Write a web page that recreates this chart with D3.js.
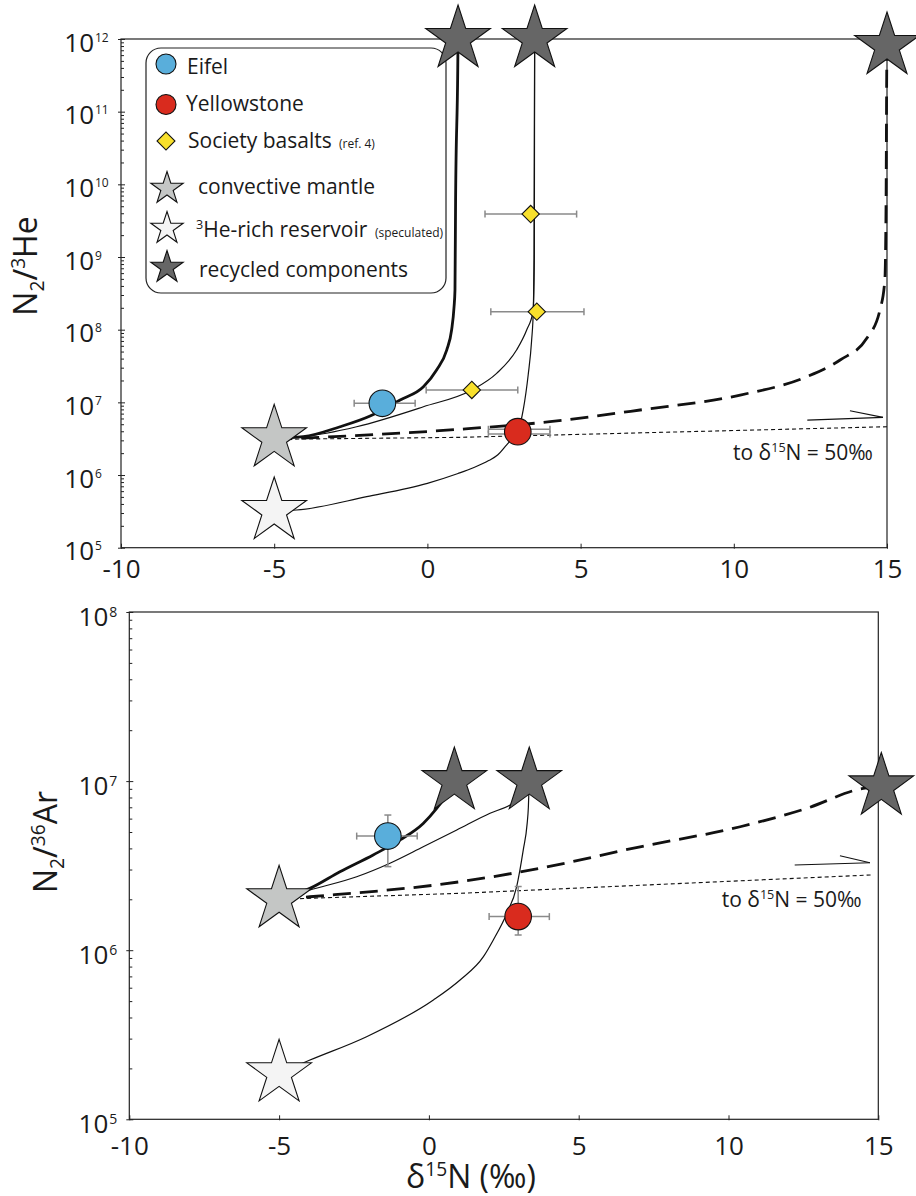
<!DOCTYPE html>
<html><head><meta charset="utf-8">
<script src="https://cdn.jsdelivr.net/npm/d3@7"></script>
<style>
body{margin:0;background:#fff}
svg{display:block}
text{font-family:"Open Sans",sans-serif;fill:#1a1a1a}
</style>
</head><body>
<svg id="c" width="916" height="1196"></svg>
<script>
// ---------- data ----------
const xTicks = [-10, -5, 0, 5, 10, 15];
const heTicks = [1e5, 1e6, 1e7, 1e8, 1e9, 1e10, 1e11, 1e12];
const arTicks = [1e5, 1e6, 1e7, 1e8];

// end-members [δ15N, ratio]
const heConvective = [-5, 3.2e6];
const heRich = [-5, 3.2e5];
const heRecycled = [[1, 1e12], [3.5, 1e12], [15, 8e11]];
const arConvective = [-5, 2.0e6];
const arRich = [-5, 1.87e5];
const arRecycled = [[0.85, 1e7], [3.35, 1e7], [15.1, 9.3e6]];

// samples [x, y, xlo, xhi, ylo, yhi]
const heEifel = [-1.47, 9.7e6, -2.39, -0.40];
const heYellowstone = [2.95, 3.95e6, 1.99, 4.0, 3.67e6, 4.26e6];
const heSociety = [[1.45, 1.48e7, -0.04, 2.95], [3.57, 1.77e8, 2.07, 5.11], [3.37, 3.9e9, 1.88, 4.87]];
const arEifel = [-1.37, 4.73e6, -2.41, -0.39, 3.12e6, 6.3e6];
const arYellowstone = [2.98, 1.58e6, 2.01, 4.02, 1.23e6, 2.38e6];

// mixing curves
const heCurveEifel = [[-5, 3.2e6], [-4.05, 3.37e6], [-2.85, 4.62e6], [-1.87, 6.49e6], [-0.89, 1.08e7], [-0.13, 1.64e7], [0.30, 2.79e7], [0.63, 5.25e7], [0.79, 9.9e7], [0.87, 2.07e8], [0.90, 3.5e8], [0.92, 6.1e9], [0.99, 3.7e11], [1, 1e12]];
const heCurveSociety = [[-5, 3.2e6], [-4.05, 3.37e6], [-2.31, 4.62e6], [-0.13, 8.7e6], [1.45, 1.48e7], [2.26, 2.51e7], [2.91, 5.25e7], [3.24, 9.9e7], [3.45, 1.8e8], [3.48, 1e9], [3.5, 1e12]];
const heCurveYellowstone = [[-5, 3.2e5], [-4.27, 3.3e5], [-1.98, 5.04e5], [0, 7.69e5], [1.0, 1.05e6], [1.5, 1.26e6], [2.0, 1.58e6], [2.3, 1.9e6], [2.55, 2.5e6], [2.8, 3.3e6], [2.95, 3.95e6], [3.13, 8.0e6], [3.29, 2.4e7], [3.40, 7.0e7], [3.46, 2.0e8], [3.49, 1e9], [3.5, 1e12]];
const heCurveDashed = [[-5, 3.1e6], [1.06, 4.26e6], [4.0, 5.42e6], [6.94, 7.85e6], [10.21, 1.26e7], [12.38, 2.25e7], [13.47, 3.83e7], [14.34, 7.6e7], [14.77, 1.87e8], [14.93, 4.83e8], [14.97, 6.1e9], [14.99, 3.0e11], [15, 8e11]];
const heCurveDotted = [[-5, 3.1e6], [1.06, 3.3e6], [15, 4.62e6]];
const heArrow = [[12.4, 5.71e6], [14.87, 6.22e6]];
const heArrowBarb = [[13.79, 7.67e6], [14.87, 6.22e6]];

const arCurveEifel = [[-5, 2.0e6], [-3.97, 2.32e6], [-2.97, 2.91e6], [-1.86, 3.66e6], [-0.96, 4.49e6], [-0.19, 5.62e6], [0.26, 6.9e6], [0.59, 8.28e6], [0.85, 1e7]];
const arCurveSociety = [[-5, 2.0e6], [-3.97, 2.27e6], [-2.41, 2.72e6], [-1.30, 3.27e6], [-0.19, 4.09e6], [0.93, 5.14e6], [2.04, 6.46e6], [2.71, 7.23e6], [3.25, 8.5e6]];
const arCurveYellowstone = [[-5, 1.87e5], [-3.97, 2.24e5], [-2.08, 3.08e5], [0.15, 5.08e5], [1.04, 6.67e5], [1.82, 9.16e5], [2.15, 1.15e6], [2.60, 1.65e6], [2.93, 2.38e6], [3.15, 3.92e6], [3.28, 5.62e6], [3.32, 7.0e6], [3.35, 1e7]];
const arCurveDashed = [[-5, 2.0e6], [-3.97, 2.07e6], [1.04, 2.54e6], [3.71, 3.05e6], [7.05, 4.09e6], [10.39, 5.37e6], [12.61, 6.9e6], [14.50, 9.06e6], [15.1, 9.3e6]];
const arCurveDotted = [[-5, 2.0e6], [1.04, 2.17e6], [14.83, 2.79e6]];
const arArrow = [[12.21, 3.19e6], [14.72, 3.29e6]];
const arArrowBarb = [[13.72, 3.62e6], [14.72, 3.29e6]];

// ---------- styles ----------
const C = {blue: "#59aedb", red: "#d92b1e", yellow: "#f8e02c", dark: "#666666", conv: "#c4c6c5", rich: "#f4f4f4", err: "#8a8a8a", ink: "#1a1a1a"};

const svg = d3.select("#c");

function rich(sel, parts, size) {
  let cur = 0;
  parts.forEach(([t, type]) => {
    const target = type === "sup" ? -size * 0.38 : type === "sub" ? size * 0.22 : 0;
    sel.append("tspan").attr("dy", (target - cur).toFixed(2))
      .attr("font-size", type ? size * 0.6 : size).text(t);
    cur = target;
  });
}

const starGen = R => d3.symbol(d3.symbolStar, R * R / 0.8908130915292852)();

function panel(cfg) {
  const {x, y, g} = cfg;
  const [x0, x1] = x.range(), [yb, yt] = y.range();
  // frame
  g.append("rect").attr("x", x0).attr("y", yt).attr("width", x1 - x0).attr("height", yb - yt)
    .attr("fill", "none").attr("stroke", "#222").attr("stroke-width", 1.2);
  // x axis ticks
  const xa = g.append("g").attr("transform", `translate(0,${yb})`)
    .call(d3.axisBottom(x).tickValues(xTicks).tickSizeInner(-4).tickSizeOuter(0).tickPadding(cfg.xPad).tickFormat(d => String(d)));
  xa.select(".domain").remove();
  xa.attr("font-size", null).attr("font-family", null);
  xa.selectAll("line").attr("stroke", "#222").attr("y2", -4).attr("y1", 1);
  xa.selectAll("text").attr("font-size", 26).attr("fill", C.ink);
  // y axis ticks
  const ya = g.append("g").attr("transform", `translate(${x0},0)`)
    .call(d3.axisLeft(y).tickValues(cfg.ticks).tickSizeInner(-4).tickSizeOuter(0).tickFormat(""));
  ya.select(".domain").remove();
  ya.selectAll("line").attr("stroke", "#222").attr("x1", -3);
  const minors = [];
  cfg.ticks.slice(0, -1).forEach(t => { for (let k = 2; k <= 9; k++) minors.push(t * k); });
  const ym = g.append("g").attr("transform", `translate(${x0},0)`)
    .call(d3.axisLeft(y).tickValues(minors).tickSizeInner(-3).tickSizeOuter(0).tickFormat(""));
  ym.select(".domain").remove();
  ym.selectAll("line").attr("stroke", "#222");
  // y labels 10^n
  cfg.ticks.forEach(t => {
    const e = Math.round(Math.log10(t));
    g.append("text").attr("x", cfg.labR).attr("y", y(t) + cfg.dyBase).attr("text-anchor", "end")
      .attr("font-size", 26).text("10");
    g.append("text").attr("x", cfg.labR + 1).attr("y", y(t) + cfg.dyExp)
      .attr("font-size", cfg.expSize).text(e);
  });
  // curves
  const line = d3.line().x(d => x(d[0])).y(d => y(d[1])).curve(d3.curveMonotoneX);
  const straight = d3.line().x(d => x(d[0])).y(d => y(d[1]));
  const lg = g.append("g").attr("fill", "none").attr("stroke", "#111");
  lg.append("path").attr("d", straight(cfg.dotted)).attr("stroke-width", 1.1).attr("stroke-dasharray", "4,3");
  lg.append("path").attr("d", line(cfg.dashed)).attr("stroke-width", 2.8).attr("stroke-dasharray", "18,9");
  lg.append("path").attr("d", line(cfg.yel)).attr("stroke-width", 1.2);
  lg.append("path").attr("d", line(cfg.soc)).attr("stroke-width", 1.2);
  lg.append("path").attr("d", line(cfg.eif)).attr("stroke-width", 2.8);
  lg.append("path").attr("d", straight(cfg.arrow)).attr("stroke-width", 1.2);
  lg.append("path").attr("d", straight(cfg.barb)).attr("stroke-width", 1.2);
  // arrow text
  const tt = g.append("text").attr("x", cfg.noteX).attr("y", cfg.noteY).attr("font-size", 21);
  rich(tt, [["to δ"], ["15", "sup"], ["N = 50‰"]], 21);
  // error bars
  const eg = g.append("g").attr("stroke", C.err).attr("stroke-width", 1.5).attr("fill", "none");
  function xerr(px, py, lo, hi) {
    eg.append("line").attr("x1", x(lo)).attr("x2", x(hi)).attr("y1", y(py)).attr("y2", y(py));
    [lo, hi].forEach(v => eg.append("line").attr("x1", x(v)).attr("x2", x(v)).attr("y1", y(py) - 3.5).attr("y2", y(py) + 3.5));
  }
  function yerr(px, lo, hi) {
    eg.append("line").attr("x1", x(px)).attr("x2", x(px)).attr("y1", y(lo)).attr("y2", y(hi));
    [lo, hi].forEach(v => eg.append("line").attr("x1", x(px) - 3.5).attr("x2", x(px) + 3.5).attr("y1", y(v)).attr("y2", y(v)));
  }
  cfg.samplesErr(xerr, yerr);
  // points
  const pg = g.append("g").attr("stroke", "#111").attr("stroke-width", 1.1);
  cfg.socPts.forEach(d => pg.append("path").attr("d", d3.symbol(d3.symbolSquare, 150)())
    .attr("transform", `translate(${x(d[0])},${y(d[1])}) rotate(45)`).attr("fill", C.yellow));
  pg.append("circle").attr("cx", x(cfg.eifPt[0])).attr("cy", y(cfg.eifPt[1])).attr("r", 13.3).attr("fill", C.blue);
  pg.append("circle").attr("cx", x(cfg.yelPt[0])).attr("cy", y(cfg.yelPt[1])).attr("r", 13.3).attr("fill", C.red);
  if (cfg.legend) cfg.legend(g);
  // stars
  const sg = g.append("g").attr("stroke", "#111").attr("stroke-width", 1.1);
  const st = (d, f) => sg.append("path").attr("d", starGen(34)).attr("transform", `translate(${x(d[0])},${y(d[1])})`).attr("fill", f);
  st(cfg.conv, C.conv);
  st(cfg.rich, C.rich);
  cfg.rec.forEach(d => st(d, C.dark));
}

// ---------- top panel ----------
const xTop = d3.scaleLinear([-10, 15], [121, 887]);
const yTop = d3.scaleLog([1e5, 1e12], [547.7, 39]);
panel({
  g: svg.append("g"), x: xTop, y: yTop, ticks: heTicks, xPad: 12,
  labR: 94, dyBase: 12.7, dyExp: 2.7, expSize: 12,
  eif: heCurveEifel, soc: heCurveSociety, yel: heCurveYellowstone, dashed: heCurveDashed, dotted: heCurveDotted,
  arrow: heArrow, barb: heArrowBarb, noteX: 733, noteY: 460,
  conv: heConvective, rich: heRich, rec: heRecycled,
  socPts: heSociety, eifPt: heEifel, yelPt: heYellowstone,
  samplesErr: (xerr, yerr) => {
    xerr(heEifel[0], heEifel[1], heEifel[2], heEifel[3]);
    xerr(heYellowstone[0], heYellowstone[4], heYellowstone[2], heYellowstone[3]);
    xerr(heYellowstone[0], heYellowstone[5], heYellowstone[2], heYellowstone[3]);
    heSociety.forEach(d => xerr(d[0], d[1], d[2], d[3]));
  },
  legend: g => {
    const L = g.append("g");
    L.append("rect").attr("x", 146).attr("y", 48).attr("width", 300).attr("height", 245).attr("rx", 15)
      .attr("fill", "#fff").attr("stroke", "#222").attr("stroke-width", 1.2);
    const m = L.append("g").attr("stroke", "#111").attr("stroke-width", 1.1);
    m.append("circle").attr("cx", 166).attr("cy", 64).attr("r", 10).attr("fill", C.blue);
    m.append("circle").attr("cx", 166).attr("cy", 104.5).attr("r", 10).attr("fill", C.red);
    m.append("path").attr("d", d3.symbol(d3.symbolSquare, 160)()).attr("transform", "translate(166,141) rotate(45)").attr("fill", C.yellow);
    m.append("path").attr("d", starGen(17)).attr("transform", "translate(167,188.5)").attr("fill", C.conv);
    m.append("path").attr("d", starGen(17)).attr("transform", "translate(167,228.5)").attr("fill", C.rich);
    m.append("path").attr("d", starGen(17)).attr("transform", "translate(167,267.5)").attr("fill", C.dark);
    const t = (xx, yy, s, fs) => L.append("text").attr("x", xx).attr("y", yy).attr("font-size", fs || 21).text(s);
    t(187, 74, "Eifel");
    t(186, 110.7, "Yellowstone");
    t(188, 147.7, "Society basalts");
    t(339, 147.7, "(ref. 4)", 12);
    t(198, 194.3, "convective mantle");
    const r = L.append("text").attr("x", 196).attr("y", 236.7).attr("font-size", 21);
    rich(r, [["3", "sup"], ["He-rich reservoir"]], 21);
    t(375, 236.7, "(speculated)", 12);
    t(199, 276.7, "recycled components");
  }
});
const yt1 = svg.append("text").attr("transform", "translate(37,266) rotate(-90)").attr("text-anchor", "middle").attr("font-size", 32);
rich(yt1, [["N"], ["2", "sub"], ["/"], ["3", "sup"], ["He"]], 32);

// ---------- bottom panel ----------
const xBot = d3.scaleLinear([-10, 15], [129.3, 878.3]);
const yBot = d3.scaleLog([1e5, 1e8], [1119.3, 612]);
panel({
  g: svg.append("g"), x: xBot, y: yBot, ticks: arTicks, xPad: 17.5,
  labR: 108.3, dyBase: 14, dyExp: 4.7, expSize: 14,
  eif: arCurveEifel, soc: arCurveSociety, yel: arCurveYellowstone, dashed: arCurveDashed, dotted: arCurveDotted,
  arrow: arArrow, barb: arArrowBarb, noteX: 721.7, noteY: 906.7,
  conv: arConvective, rich: arRich, rec: arRecycled,
  socPts: [], eifPt: arEifel, yelPt: arYellowstone,
  samplesErr: (xerr, yerr) => {
    [arEifel, arYellowstone].forEach(d => { xerr(d[0], d[1], d[2], d[3]); yerr(d[0], d[4], d[5]); });
  }
});
const yt2 = svg.append("text").attr("transform", "translate(57,842) rotate(-90)").attr("text-anchor", "middle").attr("font-size", 32);
rich(yt2, [["N"], ["2", "sub"], ["/"], ["36", "sup"], ["Ar"]], 32);
const xt = svg.append("text").attr("x", 471).attr("y", 1188).attr("text-anchor", "middle").attr("font-size", 32);
rich(xt, [["δ"], ["15", "sup"], ["N (‰)"]], 32);
</script>
</body></html>
